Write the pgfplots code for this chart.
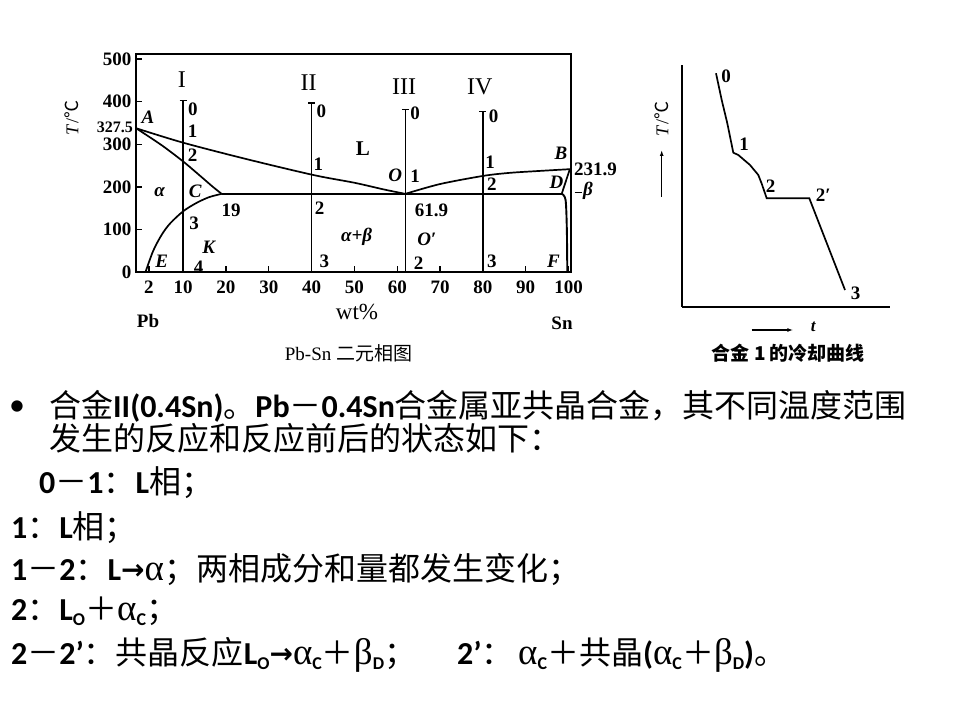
\documentclass[border=0pt]{standalone}
\usepackage{pgfplots}
\pgfplotsset{compat=1.18}
\usetikzlibrary{arrows.meta}
\usepackage{fontspec}
\setmainfont{Liberation Serif}
\newfontfamily\cjk{Noto Sans CJK SC}
\newfontfamily\lat{Carlito}
\newfontfamily\dvs{DejaVu Sans}
\newfontfamily\tms{Liberation Serif}
\newcommand\La[1]{{\lat\bfseries #1}}
\newcommand\gr[1]{{\tms\fontsize{37pt}{37pt}\selectfont #1}}
\newcommand\sub[1]{\raisebox{-5pt}{\lat\bfseries\fontsize{18pt}{18pt}\selectfont #1}}
\newcommand\arr{\raisebox{1pt}{\dvs\bfseries\fontsize{28pt}{28pt}\selectfont →}}
\newcommand\dfont{\tms\bfseries\fontsize{19pt}{19pt}\selectfont}
\newcommand\ifont{\tms\bfseries\itshape\fontsize{19pt}{19pt}\selectfont}
\newcommand\rfont{\tms\fontsize{24pt}{24pt}\selectfont}
\begin{document}
\begin{tikzpicture}
\fill[white] (0pt,0pt) rectangle (960pt,720pt);
% ---------------- phase diagram ----------------
\begin{axis}[
  at={(136pt,447.7pt)}, anchor=south west, scale only axis,
  width=434.7pt, height=218.3pt,
  xmin=-1, xmax=100.5, ymin=0, ymax=512,
  clip=false,
  axis line style={line width=1.6pt},
  xtick={2,10,20,30,40,50,60,70,80,90,100},
  ytick={0,100,200,300,400,500},
  xtick pos=bottom, ytick pos=left,
  tick align=inside, major tick length=6pt,
  tick style={line width=1.3pt, black},
  ticklabel style={font=\dfont},
  /pgf/number format/assume math mode=true,
  xticklabel style={yshift=-5pt},
  yticklabel style={xshift=-1pt},
]
% liquidus A-O
\addplot[line width=1.7pt, smooth] coordinates {(-1,338)(10,304)(25,265)(40.5,228)(50,210)(57,194)(61.9,184)};
% liquidus O-B
\addplot[line width=1.7pt, smooth] coordinates {(61.9,184)(70,207)(80,226)(86,233)(92,237)(100.5,242)};
% solidus A-C
\addplot[line width=1.7pt, smooth] coordinates {(-1,338)(5,298)(10,260)(14,226)(17,200)(19,184)};
% solvus C-E
\addplot[line width=1.7pt, smooth] coordinates {(19,184)(16,176)(13,162)(10,143)(7,115)(5,88)(3,50)(1.2,0)};
% eutectic line
\addplot[line width=1.7pt] coordinates {(19,184)(98.4,184)};
% solidus D-B
\addplot[line width=1.7pt] coordinates {(98.4,184)(100.3,242)};
% solvus D-F
\addplot[line width=1.9pt, smooth] coordinates {(98.4,184)(99.3,170)(99.6,100)(99.7,0)};
% alloy lines
\addplot[line width=1.4pt] coordinates {(10,0)(10,403)};
\addplot[line width=1.2pt] coordinates {(9.2,403)(10.8,403)};
\addplot[line width=1.4pt] coordinates {(40,0)(40,397)};
\addplot[line width=1.2pt] coordinates {(39.2,397)(40.8,397)};
\addplot[line width=1.4pt] coordinates {(61.9,0)(61.9,381)};
\addplot[line width=1.2pt] coordinates {(61.1,381)(62.7,381)};
\addplot[line width=1.4pt] coordinates {(80,0)(80,377)};
\addplot[line width=1.2pt] coordinates {(79.2,377)(80.8,377)};
% roman numerals
\node[font=\rfont] at (axis cs:9.7,451) {I};
\node[font=\rfont] at (axis cs:39.3,444) {II};
\node[font=\rfont] at (axis cs:61.6,436) {III};
\node[font=\rfont] at (axis cs:79.3,436) {IV};
% alloy I
\node[font=\dfont] at (axis cs:12.3,383) {0};
\node[font=\dfont] at (axis cs:12.2,330) {1};
\node[font=\dfont] at (axis cs:12.2,275) {2};
\node[font=\ifont] at (axis cs:12.8,189) {C};
\node[font=\dfont] at (axis cs:12.6,115) {3};
\node[font=\dfont] at (axis cs:13.6,13) {4};
\node[font=\ifont] at (axis cs:16,59) {K};
\node[font=\ifont] at (axis cs:5,27) {E};
\node[font=\ifont] at (axis cs:4.5,187) {α};
\node[font=\ifont] at (axis cs:1.8,364) {A};
\node[font=\dfont] at (axis cs:21.2,145) {19};
% alloy II
\node[font=\dfont] at (axis cs:42.3,377) {0};
\node[font=\dfont] at (axis cs:41.6,254) {1};
\node[font=\dfont] at (axis cs:41.9,150) {2};
\node[font=\dfont] at (axis cs:43,25) {3};
\node[font=\tms\bfseries\fontsize{21pt}{21pt}\selectfont] at (axis cs:52,289) {L};
\node[font=\ifont] at (axis cs:50.5,84) {α+β};
% alloy III
\node[font=\dfont] at (axis cs:64.2,372) {0};
\node[font=\ifont] at (axis cs:59.5,227) {O};
\node[font=\dfont] at (axis cs:64.2,225) {1};
\node[font=\dfont] at (axis cs:68,146) {61.9};
\node[font=\ifont] at (axis cs:66.9,77) {O′};
\node[font=\dfont] at (axis cs:65,21) {2};
% alloy IV
\node[font=\dfont] at (axis cs:82.5,365) {0};
\node[font=\dfont] at (axis cs:81.7,257) {1};
\node[font=\dfont] at (axis cs:82.1,207) {2};
\node[font=\dfont] at (axis cs:82.1,25) {3};
% right end
\node[font=\ifont] at (axis cs:98.2,279) {B};
\node[font=\ifont] at (axis cs:97.2,212) {D};
\node[font=\ifont] at (axis cs:96.5,25) {F};
\node[font=\dfont, anchor=west] at (axis cs:100.5,242) {231.9};
\draw[line width=1pt] (axis cs:101.4,186) -- (axis cs:103.1,186);
\node[font=\ifont, anchor=west, inner sep=1pt] at (axis cs:103.1,190) {β};
\end{axis}
% texts around phase diagram
\node[font=\tms\bfseries\fontsize{16pt}{16pt}\selectfont, anchor=east, inner sep=1pt] at (134pt,593pt) {327.5};
\node[font=\tms\fontsize{18pt}{18pt}\selectfont, rotate=90] at (71.7pt,602pt) {\textit{T}/{\cjk ℃}};
\node[font=\tms\fontsize{23pt}{23pt}\selectfont] at (357pt,408.3pt) {wt\%};
\node[font=\dfont] at (148pt,399pt) {Pb};
\node[font=\dfont] at (562pt,397pt) {Sn};
\node[font=\tms\fontsize{19pt}{19pt}\selectfont] at (348.5pt,366.7pt) {Pb-Sn {\cjk 二元相图}};
% ---------------- cooling curve ----------------
\begin{axis}[
  at={(681.7pt,413.3pt)}, anchor=south west, scale only axis,
  width=208.3pt, height=241.7pt,
  xmin=0, xmax=208.3, ymin=0, ymax=241.7,
  axis x line=bottom, axis y line=left,
  axis line style={-, line width=1.8pt},
  xtick=\empty, ytick=\empty, clip=false,
]
\addplot[line width=1.7pt] coordinates {(34.3,233.4)(40,206.7)(45.6,183.4)(51.6,154)(56.6,151.7)(68.3,141.7)(76.6,131.7)(80,123)(85,108.4)(127.6,108.4)(163.3,16.7)};
\node[font=\dfont] at (axis cs:44.3,230) {0};
\node[font=\dfont] at (axis cs:62.3,162.7) {1};
\node[font=\dfont] at (axis cs:89,120) {2};
\node[font=\dfont] at (axis cs:141.6,111.7) {2′};
\node[font=\dfont] at (axis cs:174,13.4) {3};
\end{axis}
\node[font=\tms\fontsize{18pt}{18pt}\selectfont, rotate=90] at (661.7pt,601pt) {\textit{T}/{\cjk ℃}};
\draw[-{Latex[length=6pt,width=4pt]}, line width=1.2pt] (661.7pt,523pt) -- (661.7pt,570pt);
\draw[-{Latex[length=6pt,width=4pt]}, line width=1.2pt] (751.7pt,390pt) -- (793.3pt,390pt);
\node[font=\tms\itshape\bfseries\fontsize{17pt}{17pt}\selectfont] at (813.3pt,393.3pt) {t};
\node[font=\cjk\bfseries\fontsize{19pt}{19pt}\selectfont] at (788.3pt,366.7pt) {合金 1 的冷却曲线};
% ---------------- text block ----------------
\begin{scope}[every node/.style={anchor=base west, inner sep=0pt, font=\cjk\fontsize{32pt}{32pt}\selectfont}]
\node[anchor=center] at (17pt,312pt) {\lat •};
\node at (49pt,302.8pt) {合金\La{II(0.4Sn)}。\La{Pb}－\La{0.4Sn}合金属亚共晶合金，其不同温度范围};
\node at (49pt,269.8pt) {发生的反应和反应前后的状态如下：};
\node at (39pt,226.8pt) {\La{0}－\La{1}：\La{L}相；};
\node at (11pt,181.8pt) {\La{1}：\La{L}相；};
\node at (11pt,139.8pt) {\La{1}－\La{2}：\La{L}\arr\gr{α}；两相成分和量都发生变化；};
\node at (11pt,99.8pt) {\La{2}：\La{L}\sub{O}＋\gr{α}\sub{C}；};
\node at (11pt,55.8pt) {\La{2}－\La{2’}：共晶反应\La{L}\sub{O}\arr\gr{α}\sub{C}＋\gr{β}\sub{D}；};
\node at (457pt,55.8pt) {\La{2’}：};
\node at (518pt,55.8pt) {\gr{α}\sub{C}＋共晶\La{(}\gr{α}\sub{C}＋\gr{β}\sub{D}\La{)}。};
\end{scope}
\end{tikzpicture}
\end{document}
